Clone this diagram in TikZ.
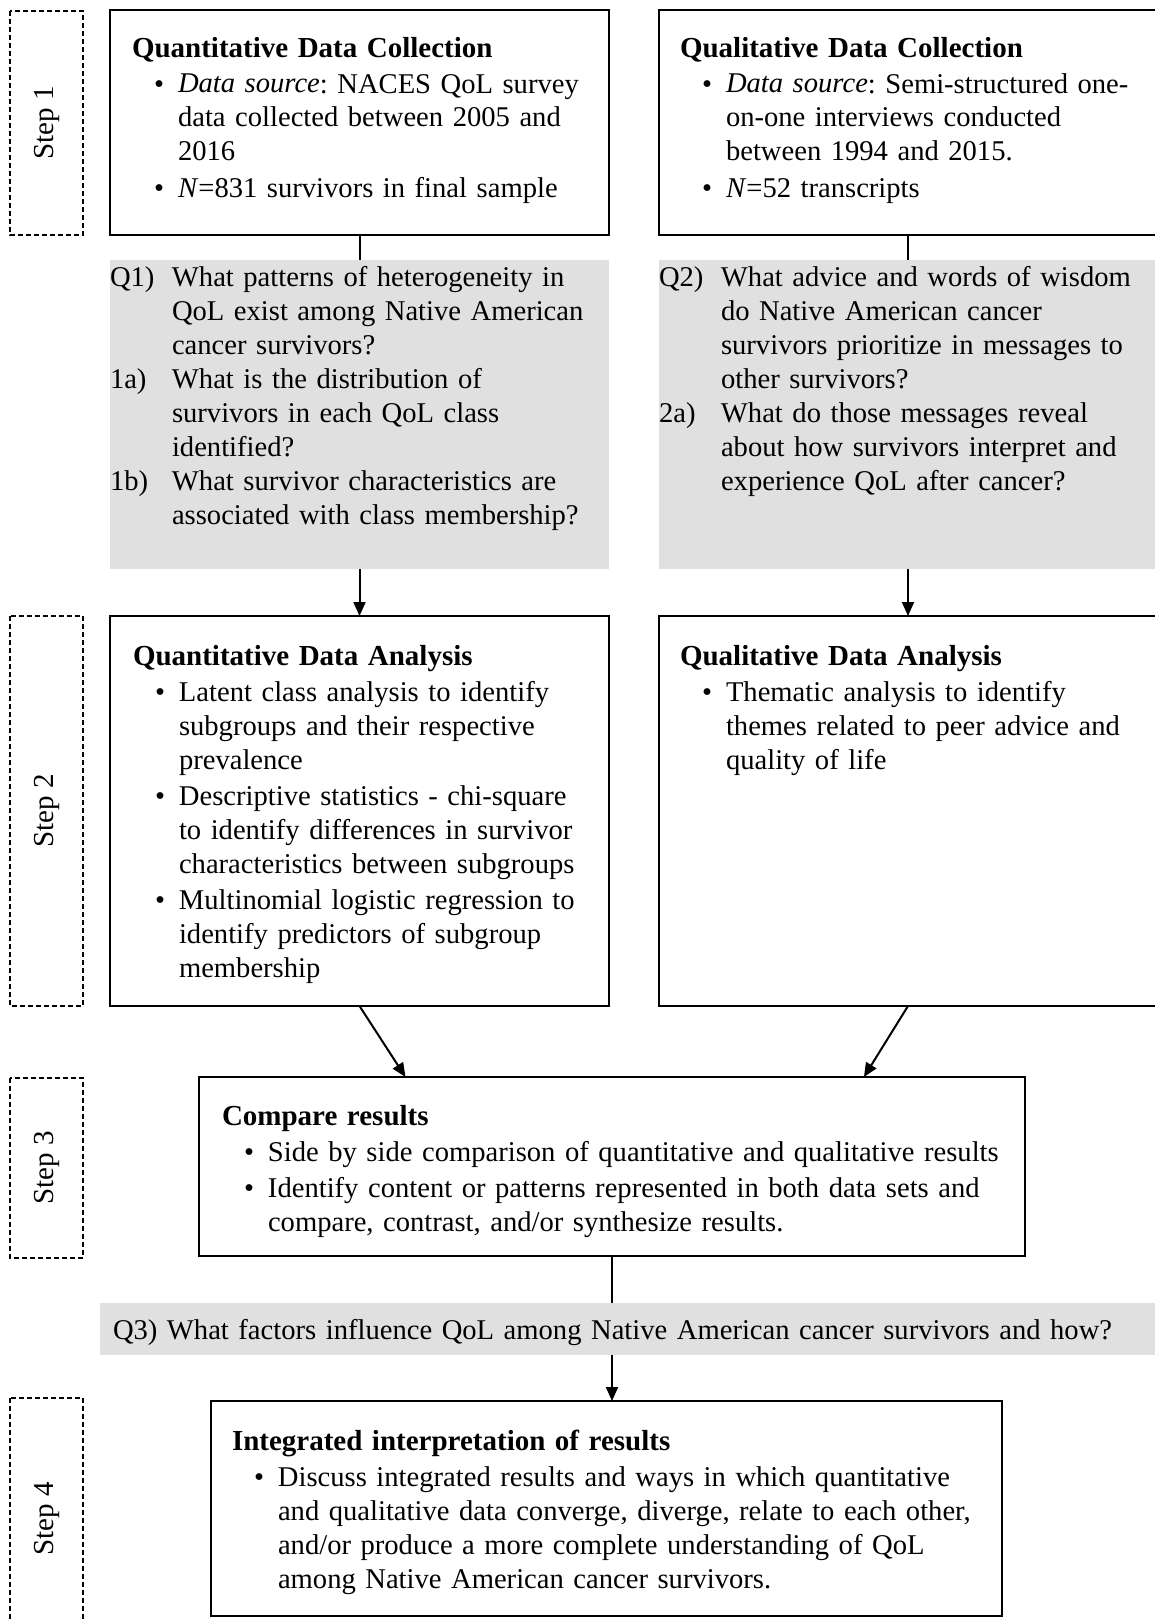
\documentclass[tikz,border=0pt]{standalone}
\usepackage{fontspec}
\setmainfont{Liberation Serif}
\usetikzlibrary{arrows.meta,calc}
\definecolor{qgray}{RGB}{224,224,224}
\frenchspacing
\newlength{\bulletoff}\setlength{\bulletoff}{22pt}
\newlength{\bulletwid}\setlength{\bulletwid}{24pt}
\newlength{\qhang}\setlength{\qhang}{62pt}
\newcommand{\bitem}[1]{\par\hangindent=\dimexpr\bulletoff+\bulletwid\relax\hangafter=1\noindent\hspace*{\bulletoff}\makebox[\bulletwid][l]{\textbullet}#1\par}
\newcommand{\qitem}[2]{\hangindent=\qhang\hangafter=1\noindent\makebox[\qhang][l]{#1}#2\par}
\newcommand{\boxtitle}[1]{{\fontsize{29}{34}\selectfont\textbf{#1}}}
\tikzset{
  box/.style={draw, line width=2pt, inner sep=0pt, outer sep=0pt, anchor=north west},
  graybox/.style={fill=qgray, draw=none, inner sep=0pt, outer sep=0pt, anchor=north west},
  stepbox/.style={draw, line width=1.6pt, dash pattern=on 5pt off 3pt, inner sep=0pt, outer sep=0pt, rotate=90, font=\fontsize{29}{34}\selectfont},
  txt/.style={inner sep=0pt, outer sep=0pt, anchor=base west, text width=900pt, font=\fontsize{28.6}{34}\selectfont\frenchspacing\setlength{\parskip}{2pt}},
  qtxt/.style={inner sep=0pt, outer sep=0pt, anchor=base west, text width=1100pt, font=\fontsize{28.6}{34}\selectfont\frenchspacing\setlength{\parskip}{0pt}},
  conn/.style={line width=2pt},
  arr/.style={line width=2pt, -{Triangle[length=14pt,width=12pt]}}
}
\begin{document}
\begin{tikzpicture}[x=1pt, y=-1pt]
\useasboundingbox (0,0) rectangle (1155,1619);
\fill[white] (0,0) rectangle (1155,1619);

% step boxes
\node[stepbox, minimum width=224pt, minimum height=73pt] (s1) at (46.5,123) {Step 1};
\node[stepbox, minimum width=390pt, minimum height=73pt] (s2) at (46.5,811) {Step 2};
\node[stepbox, minimum width=180pt, minimum height=73pt] (s3) at (46.5,1168) {Step 3};
\node[stepbox, minimum width=242pt, minimum height=73pt] (s4) at (46.5,1519) {Step 4};

% step 1 boxes
\node[box, minimum width=499pt, minimum height=225pt] (qc) at (110,10) {};
\node[box, minimum width=498pt, minimum height=225pt] (qlc) at (659,10) {};
\node[txt] (qct) at (132,57) {\boxtitle{Quantitative Data Collection}
\bitem{\textit{Data source}: NACES QoL survey\newline data collected between 2005 and\newline 2016}
\bitem{\textit{N}=831 survivors in final sample}};
\node[txt] (qlct) at (680,57) {\boxtitle{Qualitative Data Collection}
\bitem{\textit{Data source}: Semi-structured one-\newline on-one interviews conducted\newline between 1994 and 2015.}
\bitem{\textit{N}=52 transcripts}};

% questions
\node[graybox, minimum width=499pt, minimum height=309pt] (q1) at (110,260) {};
\node[graybox, minimum width=498pt, minimum height=309pt] (q2) at (659,260) {};
\node[qtxt] (q1t) at (110,286) {\qitem{Q1)}{What patterns of heterogeneity in\newline QoL exist among Native American\newline cancer survivors?}
\qitem{1a)}{What is the distribution of\newline survivors in each QoL class\newline identified?}
\qitem{1b)}{What survivor characteristics are\newline associated with class membership?}};
\node[qtxt] (q2t) at (659,286) {\qitem{Q2)}{What advice and words of wisdom\newline do Native American cancer\newline survivors prioritize in messages to\newline other survivors?}
\qitem{2a)}{What do those messages reveal\newline about how survivors interpret and\newline experience QoL after cancer?}};

% step 2 boxes
\node[box, minimum width=499pt, minimum height=390pt] (qa) at (110,616) {};
\node[box, minimum width=498pt, minimum height=390pt] (qla) at (659,616) {};
\node[txt] (qat) at (133,665) {\boxtitle{Quantitative Data Analysis}
\bitem{Latent class analysis to identify\newline subgroups and their respective\newline prevalence}
\bitem{Descriptive statistics - chi-square\newline to identify differences in survivor\newline characteristics between subgroups}
\bitem{Multinomial logistic regression to\newline identify predictors of subgroup\newline membership}};
\node[txt] (qlat) at (680,665) {\boxtitle{Qualitative Data Analysis}
\bitem{Thematic analysis to identify\newline themes related to peer advice and\newline quality of life}};

% step 3
\node[box, minimum width=826pt, minimum height=179pt] (cmp) at (199,1077) {};
\node[txt] (cmpt) at (222,1125) {\boxtitle{Compare results}
\bitem{Side by side comparison of quantitative and qualitative results}
\bitem{Identify content or patterns represented in both data sets and\newline compare, contrast, and/or synthesize results.}};

% Q3
\node[graybox, minimum width=1057pt, minimum height=52pt] (q3) at (100,1303) {};
\node[qtxt] (q3t) at (113,1339) {Q3) What factors influence QoL among Native American cancer survivors and how?};

% step 4
\node[box, minimum width=791pt, minimum height=215pt] (int) at (211,1401) {};
\node[txt] (intt) at (232,1450) {\boxtitle{Integrated interpretation of results}
\bitem{Discuss integrated results and ways in which quantitative\newline and qualitative data converge, diverge, relate to each other,\newline and/or produce a more complete understanding of QoL\newline among Native American cancer survivors.}};

% connectors
\draw[conn] (qc.south) -- (q1.north);
\draw[conn] (qlc.south) -- (q2.north);
\draw[arr] (q1.south) -- (qa.north);
\draw[arr] (q2.south) -- (qla.north);
\draw[arr] (qa.south) -- ($(cmp.north west)!0.25!(cmp.north east)$);
\draw[arr] (qla.south) -- ($(cmp.north west)!0.805!(cmp.north east)$);
\draw[conn] (cmp.south) -- (q3.north -| cmp.south);
\draw[arr] (q3.south -| cmp.south) -- (int.north -| cmp.south);
\end{tikzpicture}
\end{document}
